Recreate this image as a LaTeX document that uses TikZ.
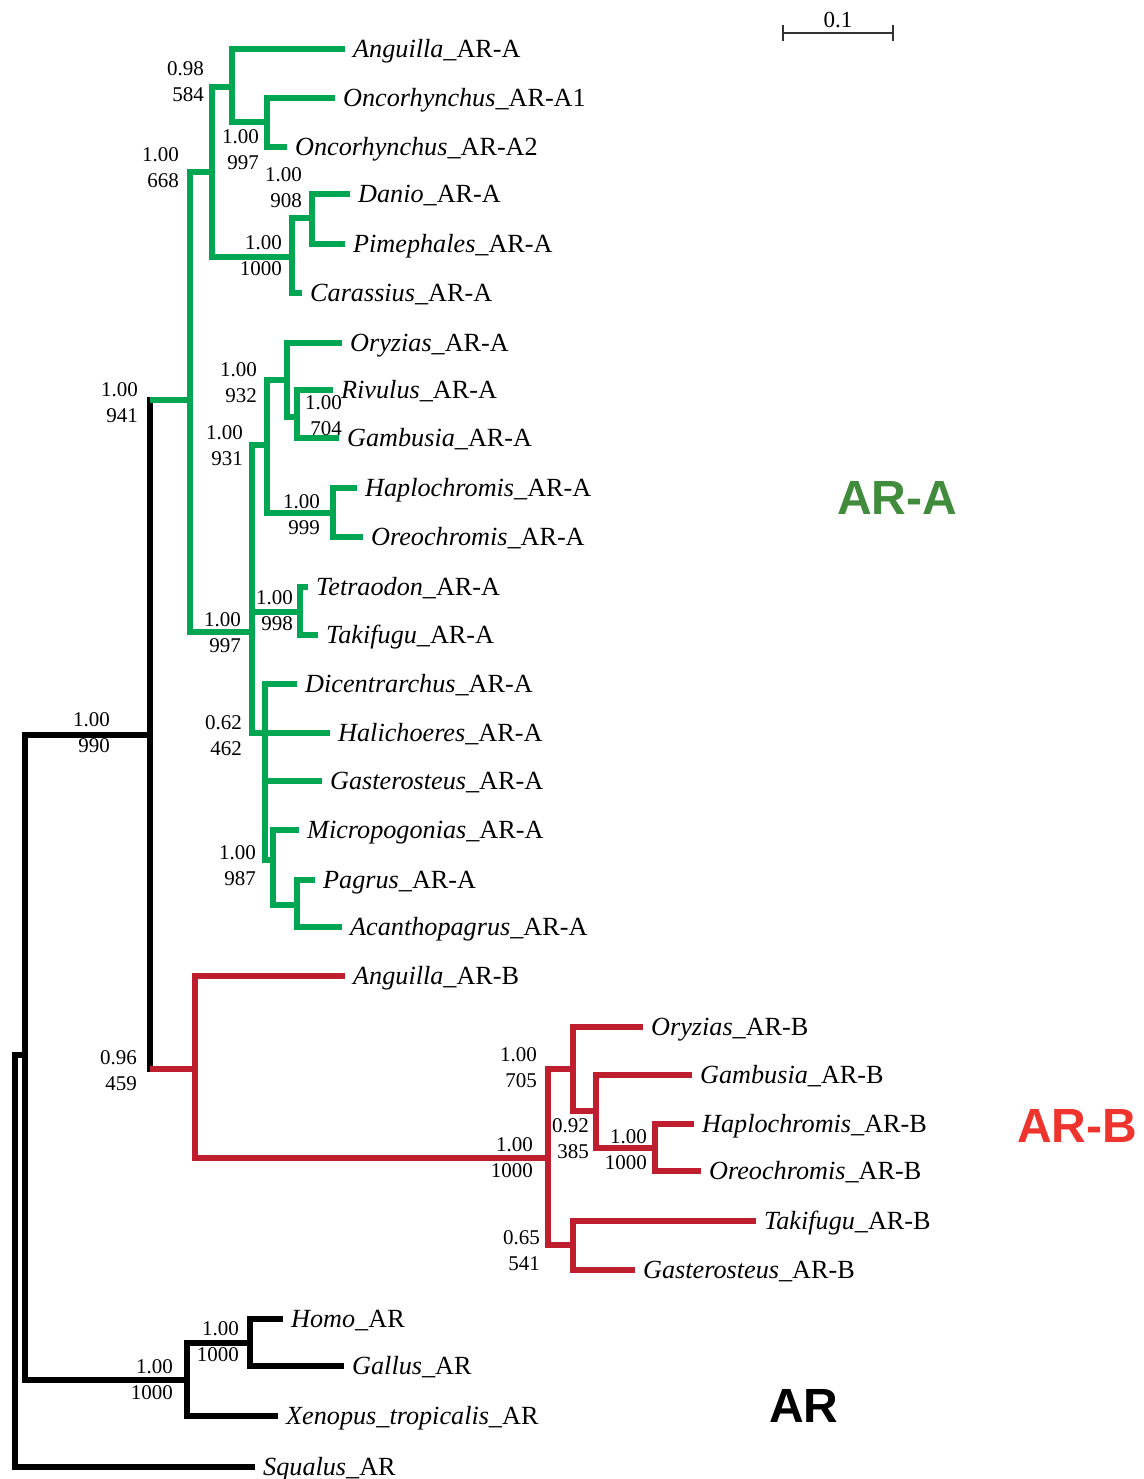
\documentclass[tikz,border=0pt]{standalone}
\usepackage{fontspec}
\setmainfont{Liberation Serif}
\newfontfamily\cladefont{Liberation Sans}
\usetikzlibrary{calc}

\definecolor{greenbr}{RGB}{0,166,81}
\definecolor{redbr}{RGB}{190,30,45}
\definecolor{cladeA}{RGB}{64,140,60}
\definecolor{cladeB}{RGB}{238,52,45}

\begin{document}
\begin{tikzpicture}[x=1pt,y=-1pt,
    branch/.style={line width=6pt, color=black},
    abranch/.style={line width=6pt, color=greenbr},
    bbranch/.style={line width=6pt, color=redbr},
    leaf/.style={anchor=west, inner xsep=8pt, inner ysep=0pt, text height=17pt, text depth=0pt, font=\fontsize{26.2}{30}\selectfont},
    boot/.style={anchor=east, align=right, inner sep=0pt, font=\fontsize{21}{26}\selectfont},
    clade/.style={anchor=west, inner sep=0pt, text height=34pt, text depth=0pt, font=\cladefont\bfseries\fontsize{48}{50}\selectfont}]

    \useasboundingbox (0,0) rectangle (1143,1479);

    % Internal Nodes
    \coordinate (root) at (15,1055);
    \coordinate (nOst) at (25,1055);
    \coordinate (n990) at (150,735);
    \coordinate (nTet) at (187,1380);
    \coordinate (nHG) at (250,1343);

    \coordinate (nA) at (190,400);
    \coordinate (n668) at (212,172);
    \coordinate (n584) at (232,87);
    \coordinate (n997a) at (267,122);
    \coordinate (n1000a) at (292,257);
    \coordinate (n908) at (312,218);
    \coordinate (n997b) at (252,632);
    \coordinate (n931) at (267,445);
    \coordinate (n932) at (287,380);
    \coordinate (n704) at (297,417);
    \coordinate (n999) at (333,513);
    \coordinate (n998) at (300,612);
    \coordinate (n462) at (265,733);
    \coordinate (n987) at (273,860);
    \coordinate (nPag) at (297,905);

    \coordinate (nB) at (195,1069);
    \coordinate (n1000b) at (548,1158);
    \coordinate (n705) at (573,1069);
    \coordinate (n385) at (596,1111);
    \coordinate (n1000c) at (655,1148);
    \coordinate (n541) at (573,1245);

    % Leaves AR-A
    \node[leaf] (angA) at (345,49) {\textit{Anguilla}\_AR-A};
    \node[leaf] (oncA1) at (335,98) {\textit{Oncorhynchus}\_AR-A1};
    \node[leaf] (oncA2) at (287,147) {\textit{Oncorhynchus}\_AR-A2};
    \node[leaf] (danA) at (350,194) {\textit{Danio}\_AR-A};
    \node[leaf] (pimA) at (345,244) {\textit{Pimephales}\_AR-A};
    \node[leaf] (carA) at (302,293) {\textit{Carassius}\_AR-A};
    \node[leaf] (oryA) at (342,343) {\textit{Oryzias}\_AR-A};
    \node[leaf] (rivA) at (333,390) {\textit{Rivulus}\_AR-A};
    \node[leaf] (gamA) at (339,438) {\textit{Gambusia}\_AR-A};
    \node[leaf] (hapA) at (357,488) {\textit{Haplochromis}\_AR-A};
    \node[leaf] (oreA) at (363,537) {\textit{Oreochromis}\_AR-A};
    \node[leaf] (tetA) at (308,587) {\textit{Tetraodon}\_AR-A};
    \node[leaf] (takA) at (318,635) {\textit{Takifugu}\_AR-A};
    \node[leaf] (dicA) at (297,684) {\textit{Dicentrarchus}\_AR-A};
    \node[leaf] (halA) at (330,733) {\textit{Halichoeres}\_AR-A};
    \node[leaf] (gasA) at (322,781) {\textit{Gasterosteus}\_AR-A};
    \node[leaf] (micA) at (299,830) {\textit{Micropogonias}\_AR-A};
    \node[leaf] (pagA) at (315,880) {\textit{Pagrus}\_AR-A};
    \node[leaf] (acaA) at (342,927) {\textit{Acanthopagrus}\_AR-A};

    % Leaves AR-B
    \node[leaf] (angB) at (345,976) {\textit{Anguilla}\_AR-B};
    \node[leaf] (oryB) at (643,1027) {\textit{Oryzias}\_AR-B};
    \node[leaf] (gamB) at (692,1075) {\textit{Gambusia}\_AR-B};
    \node[leaf] (hapB) at (694,1124) {\textit{Haplochromis}\_AR-B};
    \node[leaf] (oreB) at (701,1171) {\textit{Oreochromis}\_AR-B};
    \node[leaf] (takB) at (756,1221) {\textit{Takifugu}\_AR-B};
    \node[leaf] (gasB) at (635,1270) {\textit{Gasterosteus}\_AR-B};

    % Leaves AR
    \node[leaf] (homAR) at (283,1319) {\textit{Homo}\_AR};
    \node[leaf] (galAR) at (344,1366) {\textit{Gallus}\_AR};
    \node[leaf] (xenAR) at (278,1416) {\textit{Xenopus\_tropicalis}\_AR};
    \node[leaf] (squAR) at (255,1467) {\textit{Squalus}\_AR};

    % Black Branches
    \draw[branch] (nOst) -- (root) |- (squAR.west);
    \draw[branch] (nOst) |- (n990);
    \draw[branch] (nOst) |- (nTet);
    \draw[branch] (nTet) |- (nHG);
    \draw[branch] (nTet) |- (xenAR.west);
    \draw[branch] (nHG) |- (homAR.west);
    \draw[branch] (nHG) |- (galAR.west);
    \draw[branch, line cap=rect] (n990 |- nA) -- (n990 |- nB);

    % Green Branches
    \draw[abranch] (n990 |- nA) -- (nA);
    \draw[abranch] (nA) |- (n668);
    \draw[abranch] (nA) |- (n997b);
    \draw[abranch] (n668) |- (n584);
    \draw[abranch] (n668) |- (n1000a);
    \draw[abranch] (n584) |- (angA.west);
    \draw[abranch] (n584) |- (n997a);
    \draw[abranch] (n997a) |- (oncA1.west);
    \draw[abranch] (n997a) |- (oncA2.west);
    \draw[abranch] (n1000a) |- (n908);
    \draw[abranch] (n1000a) |- (carA.west);
    \draw[abranch] (n908) |- (danA.west);
    \draw[abranch] (n908) |- (pimA.west);
    \draw[abranch] (n997b) |- (n931);
    \draw[abranch] (n997b) |- (n998);
    \draw[abranch] (n997b) |- (n462);
    \draw[abranch] (n931) |- (n932);
    \draw[abranch] (n931) |- (n999);
    \draw[abranch] (n932) |- (oryA.west);
    \draw[abranch] (n932) |- (n704);
    \draw[abranch] (n704) |- (rivA.west);
    \draw[abranch] (n704) |- (gamA.west);
    \draw[abranch] (n999) |- (hapA.west);
    \draw[abranch] (n999) |- (oreA.west);
    \draw[abranch] (n998) |- (tetA.west);
    \draw[abranch] (n998) |- (takA.west);
    \draw[abranch] (n462) |- (dicA.west);
    \draw[abranch] (n462) -- (halA.west);
    \draw[abranch] (n462) |- (gasA.west);
    \draw[abranch] (n462) |- (n987);
    \draw[abranch] (n987) |- (micA.west);
    \draw[abranch] (n987) |- (nPag);
    \draw[abranch] (nPag) |- (pagA.west);
    \draw[abranch] (nPag) |- (acaA.west);

    % Red Branches
    \draw[bbranch] (n990 |- nB) -- (nB);
    \draw[bbranch] (nB) |- (angB.west);
    \draw[bbranch] (nB) |- (n1000b);
    \draw[bbranch] (n1000b) |- (n705);
    \draw[bbranch] (n1000b) |- (n541);
    \draw[bbranch] (n705) |- (oryB.west);
    \draw[bbranch] (n705) |- (n385);
    \draw[bbranch] (n385) |- (gamB.west);
    \draw[bbranch] (n385) |- (n1000c);
    \draw[bbranch] (n1000c) |- (hapB.west);
    \draw[bbranch] (n1000c) |- (oreB.west);
    \draw[bbranch] (n541) |- (takB.west);
    \draw[bbranch] (n541) |- (gasB.west);

    % Support Values
    \node[boot] (b584) at (204,82) {0.98\\584};
    \node[boot] (b668) at (179,168) {1.00\\668};
    \node[boot] (b997a) at (259,150) {1.00\\997};
    \node[boot] (b908) at (302,188) {1.00\\908};
    \node[boot] (b1000a) at (282,256) {1.00\\1000};
    \node[boot] (b941) at (138,403) {1.00\\941};
    \node[boot] (b932) at (257,383) {1.00\\932};
    \node[boot] (b704) at (342,416) {1.00\\704};
    \node[boot] (b931) at (243,446) {1.00\\931};
    \node[boot] (b999) at (320,515) {1.00\\999};
    \node[boot] (b998) at (293,611) {1.00\\998};
    \node[boot] (b997b) at (241,633) {1.00\\997};
    \node[boot] (b462) at (242,736) {0.62\\462};
    \node[boot] (b987) at (256,866) {1.00\\987};
    \node[boot] (b990) at (110,733) {1.00\\990};
    \node[boot] (b459) at (137,1071) {0.96\\459};
    \node[boot] (b705) at (537,1068) {1.00\\705};
    \node[boot] (b1000b) at (533,1158) {1.00\\1000};
    \node[boot] (b385) at (589,1139) {0.92\\385};
    \node[boot] (b1000c) at (647,1150) {1.00\\1000};
    \node[boot] (b541) at (540,1251) {0.65\\541};
    \node[boot] (b1000d) at (239,1342) {1.00\\1000};
    \node[boot] (b1000e) at (173,1380) {1.00\\1000};

    % Clade Labels
    \node[clade, text=cladeA] (labA) at (837,497) {AR-A};
    \node[clade, text=cladeB] (labB) at (1017,1125) {AR-B};
    \node[clade, text=black] (labAR) at (769,1405) {AR};

    % Scale Bar
    \coordinate (sbL) at (783,33);
    \coordinate (sbR) at (893,33);
    \draw[line width=1.3pt, color=black!80] (sbL) -- (sbR);
    \draw[line width=1.3pt, color=black!80] ([yshift=8pt]sbL) -- ([yshift=-8pt]sbL);
    \draw[line width=1.3pt, color=black!80] ([yshift=8pt]sbR) -- ([yshift=-8pt]sbR);
    \node[inner sep=0pt, anchor=base, font=\fontsize{23}{26}\selectfont] (sbT) at (838,28) {0.1};

\end{tikzpicture}
\end{document}
